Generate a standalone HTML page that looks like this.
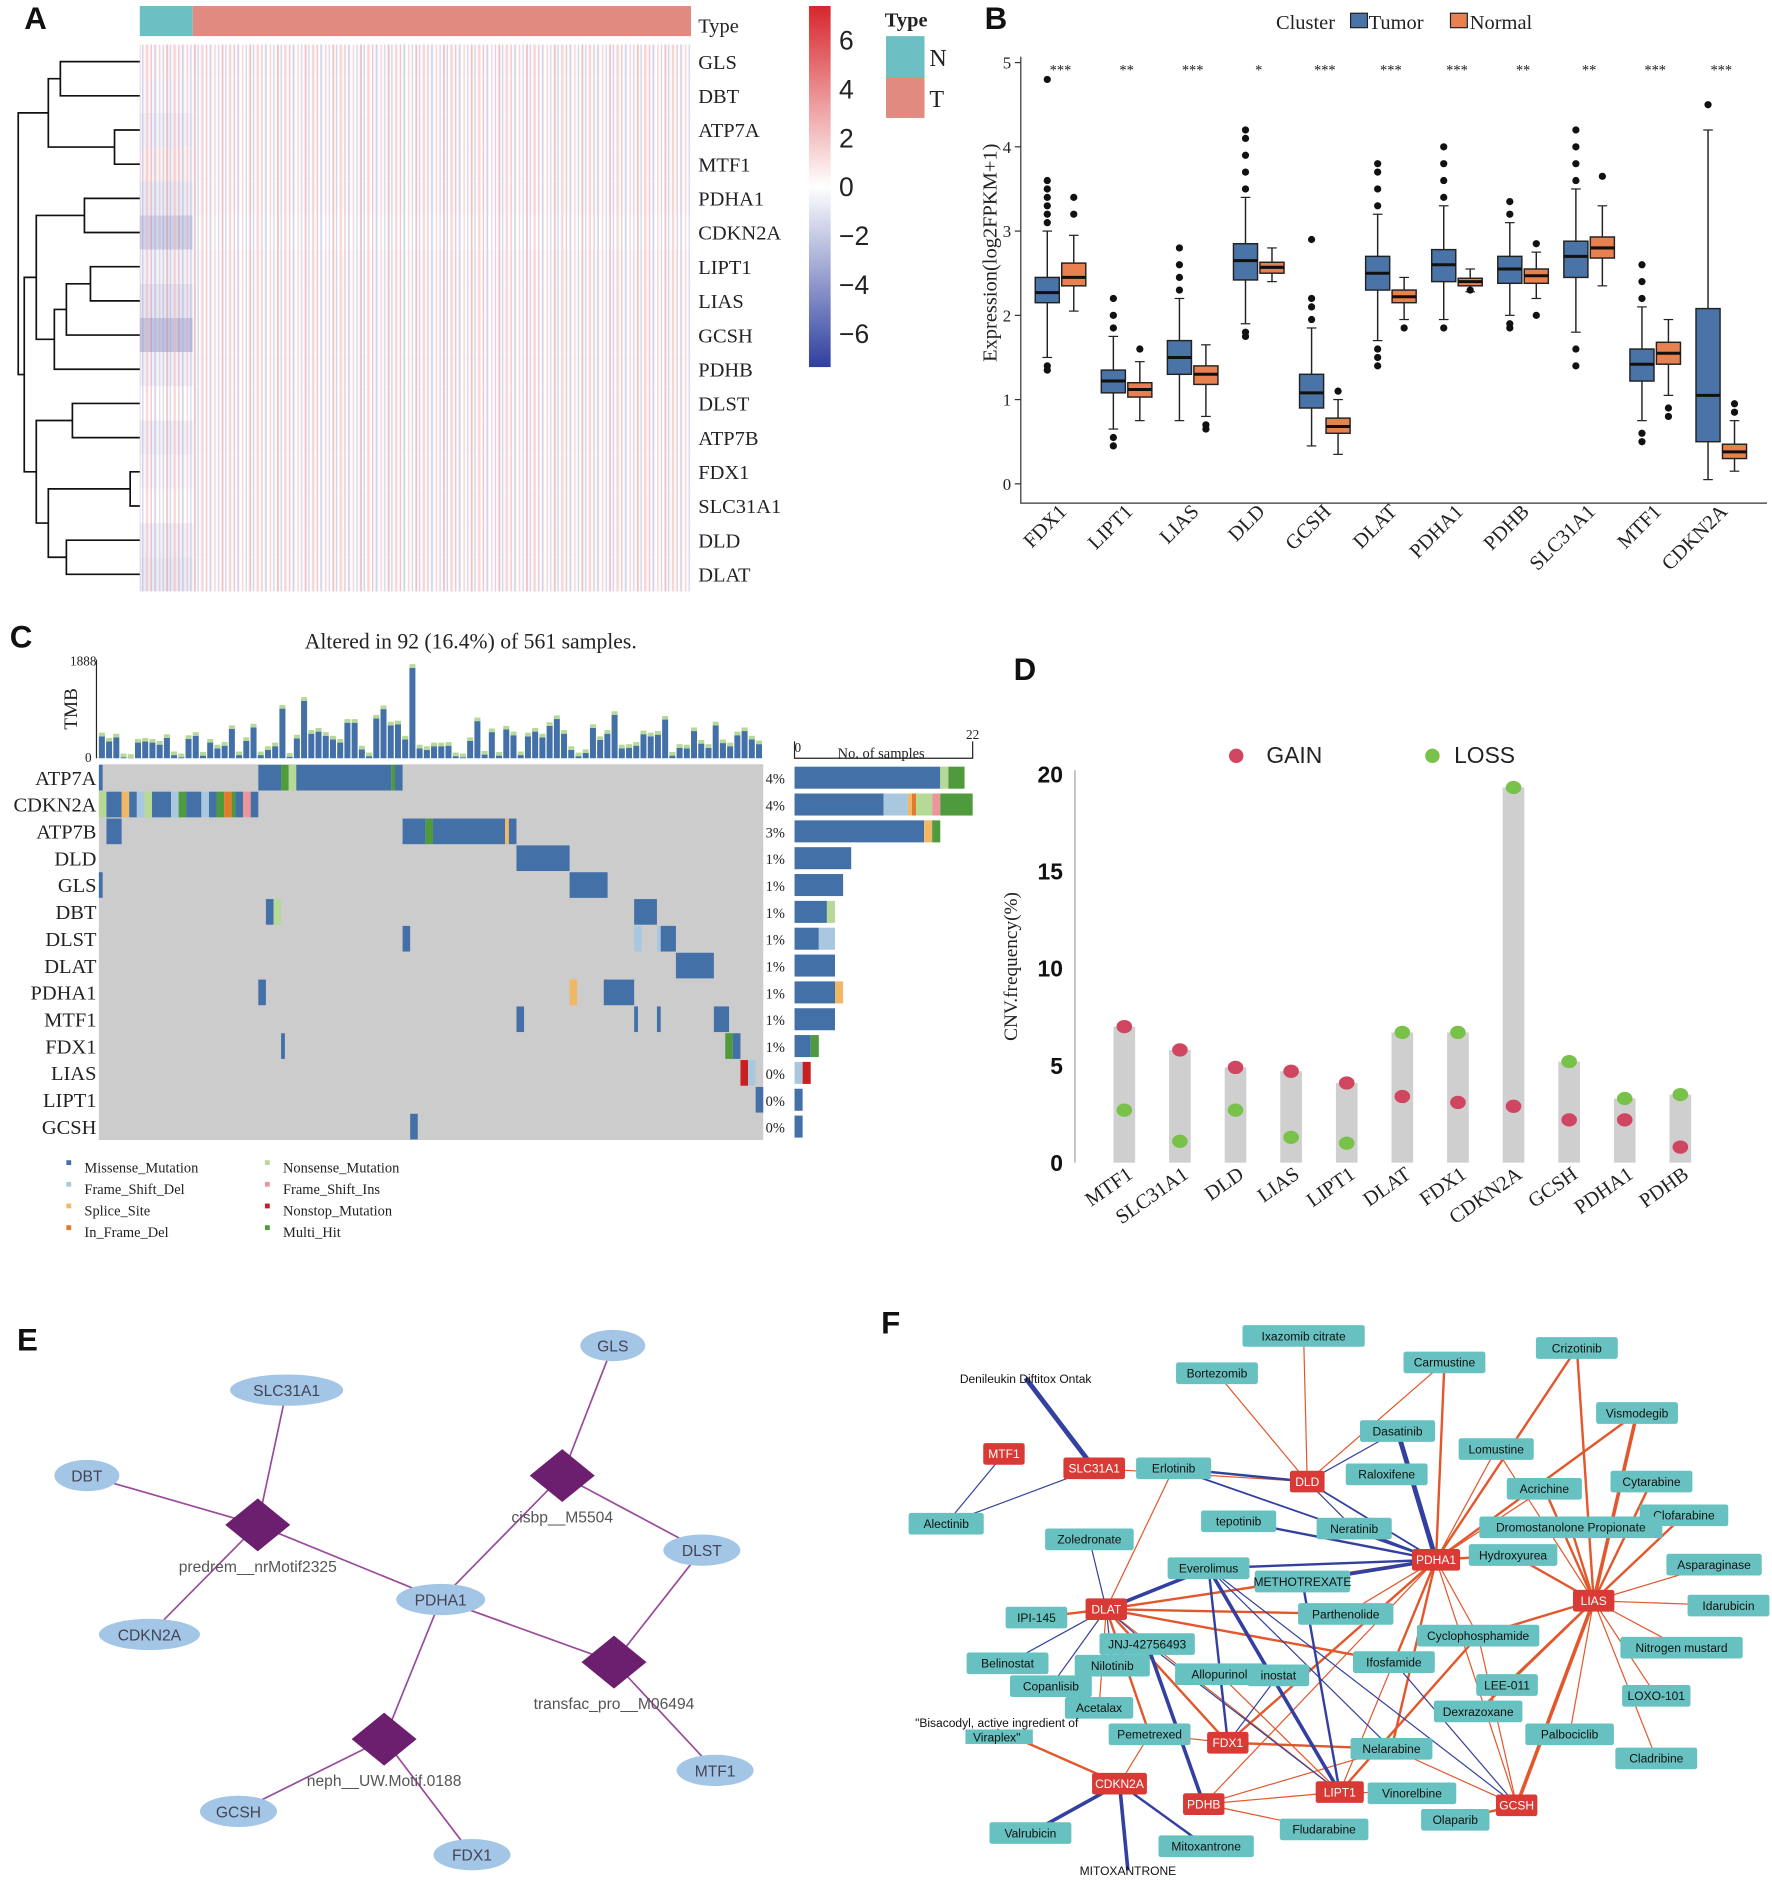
<!DOCTYPE html>
<html><head><meta charset="utf-8">
<style>
html,body{margin:0;padding:0;background:#fff;}
svg{display:block;}
.serif{font-family:"Liberation Serif",serif;}
.sans{font-family:"Liberation Sans",sans-serif;}
</style></head>
<body>
<svg id="fig" width="1772" height="1892" viewBox="0 0 1472 1572" xmlns="http://www.w3.org/2000/svg">
<defs>
<linearGradient id="cbar" x1="0" y1="0" x2="0" y2="1">
<stop offset="0" stop-color="#d7262b"/><stop offset="0.5" stop-color="#ffffff"/><stop offset="1" stop-color="#2f3f9f"/>
</linearGradient>
<pattern id="stripes" width="23" height="10" patternUnits="userSpaceOnUse">
<rect x="0" y="0" width="1.5" height="10" fill="#e07a80" opacity="0.45"/>
<rect x="3" y="0" width="1" height="10" fill="#8f96d0" opacity="0.45"/>
<rect x="6" y="0" width="2" height="10" fill="#f0b0b2" opacity="0.5"/>
<rect x="10" y="0" width="1" height="10" fill="#d05058" opacity="0.35"/>
<rect x="13" y="0" width="1.5" height="10" fill="#a8acdc" opacity="0.5"/>
<rect x="17" y="0" width="1" height="10" fill="#e89094" opacity="0.4"/>
<rect x="20" y="0" width="1" height="10" fill="#7077c0" opacity="0.3"/>
</pattern>
</defs>
<g id="panelA"></g>
<g id="panelB"></g>
<g id="panelC"></g>
<g id="panelD"></g>
<g id="panelE"></g>
<g id="panelF"></g>
<g class="sans" font-weight="bold" font-size="26" fill="#111">
<text x="20" y="24">A</text>
<text x="818" y="24">B</text>
<text x="8" y="538">C</text>
<text x="842" y="565">D</text>
<text x="14" y="1122">E</text>
<text x="732" y="1108">F</text>
</g>
</svg>
<script>
const NS='http://www.w3.org/2000/svg';
function mk(tag,attrs,parent,txt){const e=document.createElementNS(NS,tag);for(const k in attrs)e.setAttribute(k,attrs[k]);if(txt!==undefined)e.textContent=txt;parent.appendChild(e);return e;}

/* ---------- Panel A: heatmap ---------- */
const heatGenes=['GLS','DBT','ATP7A','MTF1','PDHA1','CDKN2A','LIPT1','LIAS','GCSH','PDHB','DLST','ATP7B','FDX1','SLC31A1','DLD','DLAT'];
const heatNormalMean=[0.1,-0.1,-0.2,0.2,-0.3,-0.7,-0.2,-0.4,-0.9,-0.2,0.0,-0.2,-0.1,0.0,-0.2,-0.3];
const heatTumorMean=[0.05,0.05,0.05,0.05,0.05,0.0,0.05,0.05,0.05,0.05,0.05,0.05,0.05,0.05,0.05,0.05];
const cbTicks=[6,4,2,0,-2,-4,-6];
(function(){
const g=document.getElementById('panelA');
const x0=116,x1=574,xN=160,y0=37,rh=28.4;
const sy=v=>155-v*20.3;
function col(v){const t=Math.min(1,Math.abs(v)/6);const w=[255,255,255];const c=v>=0?[215,38,43]:[47,63,159];return 'rgb('+w.map((a,i)=>Math.round(a+(c[i]-a)*t)).join(',')+')';}
let e;
e=mk('rect',{x:x0,y:5,width:xN-x0,height:25,fill:'#6cbfc2'},g);


e=mk('rect',{x:xN,y:5,width:x1-xN,height:25,fill:'#e08a80'},g);


mk('text',{x:580,y:27,'font-size':17,class:'serif',fill:'#222'},g,'Type');
heatGenes.forEach((gn,i)=>{
 const y=y0+i*rh;
 let r=mk('rect',{x:x0,y:y,width:xN-x0,height:rh,fill:col(heatNormalMean[i]*2)},g);
 
 
 r=mk('rect',{x:xN,y:y,width:x1-xN,height:rh,fill:col(heatTumorMean[i]*2)},g);
 
 
 mk('rect',{x:x0,y:y,width:x1-x0,height:rh,fill:'url(#stripes)'},g);
});
heatGenes.forEach((gn,i)=>{const t=mk('text',{x:580,y:y0+i*rh+rh/2+6,'font-size':17,class:'serif',fill:'#222'},g,gn);
 
 });
const yc=i=>y0+i*rh+rh/2;
const P=[];function link(ya,xa,yb,xb,xj){P.push(`M${xa},${ya}H${xj}V${yb}H${xb}`);}
link(yc(0),116,yc(1),116,50);link(yc(2),116,yc(3),116,95);
const m01=(yc(0)+yc(1))/2,m23=(yc(2)+yc(3))/2;link(m01,50,m23,95,40);const mA=(m01+m23)/2;
link(yc(4),116,yc(5),116,70);const m45=(yc(4)+yc(5))/2;
link(yc(6),116,yc(7),116,75);const m67=(yc(6)+yc(7))/2;
link(m67,75,yc(8),116,55);const m678=(m67+yc(8))/2;
link(m678,55,yc(9),116,45);const m69=(m678+yc(9))/2;
link(m45,70,m69,45,30);const mB=(m45+m69)/2;
link(yc(10),116,yc(11),116,60);const mC=(yc(10)+yc(11))/2;
link(yc(12),116,yc(13),116,108);const m1213=(yc(12)+yc(13))/2;
link(yc(14),116,yc(15),116,55);const m1415=(yc(14)+yc(15))/2;
link(m1213,108,m1415,55,40);const mD=(m1213+m1415)/2;
link(mC,60,mD,40,30);const mE=(mC+mD)/2;
link(mB,30,mE,30,20);const mF=(mB+mE)/2;
link(mA,40,mF,20,15);
e=mk('path',{d:P.join(''),fill:'none',stroke:'#111','stroke-width':1.4},g);


e=mk('rect',{x:672,y:5,width:18,height:300,fill:'url(#cbar)'},g);


cbTicks.forEach(v=>{const t=mk('text',{x:697,y:sy(v)+8,'font-size':22,class:'sans',fill:'#222'},g,v<0?'\u2212'+(-v):String(v));
 
 });
mk('text',{x:735,y:22,'font-size':17,'font-weight':'bold',class:'serif',fill:'#222'},g,'Type');
e=mk('rect',{x:736,y:30,width:32,height:34,fill:'#6cbfc2'},g);


e=mk('rect',{x:736,y:64,width:32,height:34,fill:'#e08a80'},g);


mk('text',{x:772,y:55,'font-size':20,class:'serif',fill:'#222'},g,'N');
mk('text',{x:772,y:89,'font-size':20,class:'serif',fill:'#222'},g,'T');
})();

/* ---------- Panel B: boxplots ---------- */
const boxGenes=['FDX1','LIPT1','LIAS','DLD','GCSH','DLAT','PDHA1','PDHB','SLC31A1','MTF1','CDKN2A'];
const tumorStats=[[1.5,2.15,2.27,2.45,3.0],[0.65,1.08,1.22,1.35,1.75],[0.75,1.3,1.5,1.7,2.2],[1.9,2.42,2.65,2.85,3.4],[0.45,0.9,1.08,1.3,1.85],[1.7,2.3,2.5,2.7,3.2],[1.95,2.4,2.6,2.78,3.3],[2.0,2.38,2.55,2.7,3.1],[1.8,2.45,2.7,2.88,3.5],[0.75,1.22,1.42,1.6,2.1],[0.05,0.5,1.05,2.08,4.2]];
const normalStats=[[2.05,2.35,2.45,2.62,2.95],[0.75,1.03,1.12,1.2,1.45],[0.8,1.18,1.3,1.4,1.65],[2.4,2.5,2.57,2.63,2.8],[0.35,0.6,0.68,0.78,1.0],[1.95,2.15,2.22,2.3,2.45],[2.28,2.35,2.4,2.44,2.55],[2.2,2.38,2.47,2.55,2.75],[2.35,2.68,2.8,2.93,3.3],[1.05,1.42,1.55,1.68,1.95],[0.15,0.3,0.38,0.47,0.75]];
const tumorOutliers=[[3.1,3.2,3.3,3.4,3.5,3.6,4.8,1.4,1.35],[1.85,2.0,2.2,0.55,0.45],[2.3,2.45,2.6,2.8],[3.5,3.7,3.9,4.1,4.2,1.75,1.8],[1.95,2.1,2.2,2.9],[3.3,3.5,3.7,3.8,1.6,1.5,1.4],[3.4,3.6,3.8,4.0,1.85],[3.2,3.35,1.9,1.85],[3.6,3.8,4.0,4.2,1.6,1.4],[2.2,2.4,2.6,0.6,0.5],[4.5]];
const normalOutliers=[[3.2,3.4],[1.6],[0.7,0.65],[],[1.1],[1.85],[2.3],[2.0,2.85],[3.65],[0.9,0.8],[0.85,0.95]];
const sigStars=['***','**','***','*','***','***','***','**','**','***','***'];
const yTicksB=[0,1,2,3,4,5];
(function(){
const g=document.getElementById('panelB');
const yB=v=>402-v*70, gx=i=>881+i*54.9;
let e=mk('path',{d:'M848,47V418H1468',fill:'none',stroke:'#333','stroke-width':1},g);


yTicksB.forEach(v=>{mk('line',{x1:843,x2:848,y1:yB(v),y2:yB(v),stroke:'#333'},g);
 const t=mk('text',{x:840,y:yB(v)+5,'text-anchor':'end','font-size':14,class:'serif',fill:'#222'},g,String(v));
 
 });
e=mk('text',{transform:'translate(828,210) rotate(-90)','text-anchor':'middle','font-size':17,class:'serif',fill:'#222'},g,'Expression(log2FPKM+1)');


mk('text',{x:1060,y:24,'font-size':17,class:'serif',fill:'#222'},g,'Cluster');
mk('rect',{x:1122,y:11,width:14,height:12,fill:'#4a74a8',stroke:'#222'},g);
mk('text',{x:1137,y:24,'font-size':17,class:'serif',fill:'#222'},g,'Tumor');
mk('rect',{x:1205,y:11,width:14,height:12,fill:'#e8804f',stroke:'#222'},g);
mk('text',{x:1221,y:24,'font-size':17,class:'serif',fill:'#222'},g,'Normal');
function box(cx,s,outs,fill,name){
 const bg=mk('g',{},g);
 
 
 mk('line',{x1:cx,x2:cx,y1:yB(s[0]),y2:yB(s[4]),stroke:'#222','stroke-width':1.2},bg);
 mk('line',{x1:cx-4,x2:cx+4,y1:yB(s[0]),y2:yB(s[0]),stroke:'#222'},bg);
 mk('line',{x1:cx-4,x2:cx+4,y1:yB(s[4]),y2:yB(s[4]),stroke:'#222'},bg);
 mk('rect',{x:cx-10,y:yB(s[3]),width:20,height:yB(s[1])-yB(s[3]),fill:fill,stroke:'#222','stroke-width':1.2},bg);
 mk('line',{x1:cx-10,x2:cx+10,y1:yB(s[2]),y2:yB(s[2]),stroke:'#111','stroke-width':2.5},bg);
 outs.forEach(o=>mk('circle',{cx:cx,cy:yB(o),r:3,fill:'#111'},bg));
}
boxGenes.forEach((gn,i)=>{
 box(gx(i)-11,tumorStats[i],tumorOutliers[i],'#4a74a8','box-tumor-'+gn);
 box(gx(i)+11,normalStats[i],normalOutliers[i],'#e8804f','box-normal-'+gn);
 const s=mk('text',{x:gx(i),y:62,'text-anchor':'middle','font-size':12,class:'serif',fill:'#222'},g,sigStars[i]);
 
 
 const t=mk('text',{transform:`translate(${gx(i)+6},426) rotate(-45)`,'text-anchor':'end','font-size':17,class:'serif',fill:'#222'},g,gn);
 
 
});
})();

/* ---------- Panel C: oncoprint ---------- */
const oncoGenes=['ATP7A','CDKN2A','ATP7B','DLD','GLS','DBT','DLST','DLAT','PDHA1','MTF1','FDX1','LIAS','LIPT1','GCSH'];
const oncoPct=['4%','4%','3%','1%','1%','1%','1%','1%','1%','1%','1%','0%','0%','0%'];
const mutColors={M:'#4470a8',D:'#a9c8e0',S:'#f0b865',I:'#e27a2b',N:'#b6d998',F:'#ec9699',X:'#c82020',H:'#4f9a3c'};
const mutNames=[['M','Missense_Mutation'],['N','Nonsense_Mutation'],['D','Frame_Shift_Del'],['F','Frame_Shift_Ins'],['S','Splice_Site'],['X','Nonstop_Mutation'],['I','In_Frame_Del'],['H','Multi_Hit']];
const oncoCells=[[0,0,0,'M'],[0,42,47,'M'],[0,48,49,'H'],[0,50,51,'N'],[0,52,76,'M'],[0,77,77,'H'],[0,78,79,'M'],
[1,0,1,'N'],[1,2,5,'M'],[1,6,7,'S'],[1,8,9,'M'],[1,10,11,'D'],[1,12,13,'N'],[1,14,18,'M'],[1,19,20,'D'],[1,21,22,'H'],[1,23,26,'M'],[1,27,28,'D'],[1,29,30,'M'],[1,31,32,'H'],[1,33,34,'I'],[1,35,35,'H'],[1,36,37,'M'],[1,38,39,'F'],[1,40,41,'M'],
[2,2,5,'M'],[2,80,85,'M'],[2,86,87,'H'],[2,88,106,'M'],[2,107,107,'S'],[2,108,109,'M']];
const oncoCells2=[[3,110,123,'M'],[4,0,0,'M'],[4,124,133,'M'],[5,44,45,'M'],[5,46,47,'N'],[5,141,146,'M'],[6,80,81,'M'],[6,141,142,'D'],[6,147,147,'D'],[6,148,151,'M'],[7,152,161,'M'],[8,42,43,'M'],[8,124,125,'S'],[8,133,140,'M'],[9,110,111,'M'],[9,141,141,'M'],[9,147,147,'M'],[9,162,165,'M'],[10,48,48,'M'],[10,165,166,'H'],[10,167,168,'M'],[11,169,170,'X'],[11,171,172,'D'],[12,173,174,'M'],[13,82,83,'M']];
const oncoCounts=[[['M',18],['N',1],['H',2]],[['M',11],['D',3],['S',0.5],['I',0.5],['N',2],['F',1],['H',4]],[['M',16],['S',1],['H',1]],[['M',7]],[['M',6]],[['M',4],['N',1]],[['M',3],['D',2]],[['M',5]],[['M',5],['S',1]],[['M',5]],[['M',2],['H',1]],[['D',1],['X',1]],[['M',1]],[['M',1]]];
const tmbValues=[420,320,400,20,10,300,320,300,260,390,60,20,370,430,50,300,190,240,560,60,330,590,60,160,230,950,30,380,1100,470,510,430,360,300,680,680,170,40,760,940,630,650,360,1730,190,160,230,230,240,40,20,330,710,70,500,50,550,440,60,420,510,400,620,750,470,160,40,100,580,350,470,830,190,200,240,460,420,450,740,50,200,190,520,280,200,630,290,230,440,520,360,270];
(function(){
const g=document.getElementById('panelC');
const gx0=82,cw=552/175,rh=22.3,gy0=635;
let e=mk('text',{x:391,y:539,'text-anchor':'middle','font-size':18,class:'serif',fill:'#222'},g,'Altered in 92 (16.4%) of 561 samples.');


const tx0=82,tw=552/tmbValues.length,ty=630,tmax=1888,th=82;
mk('line',{x1:80,x2:80,y1:548,y2:630,stroke:'#222'},g);
mk('text',{x:80,y:553,'text-anchor':'end','font-size':11,class:'serif',fill:'#222'},g,'1888');
mk('text',{x:76,y:633,'text-anchor':'end','font-size':11,class:'serif',fill:'#222'},g,'0');
mk('text',{transform:'translate(64,589) rotate(-90)','text-anchor':'middle','font-size':16,class:'serif',fill:'#222'},g,'TMB');
tmbValues.forEach((v,i)=>{const h=v/tmax*th;
 const b=mk('rect',{x:tx0+i*tw,y:ty-h,width:tw-1,height:h,fill:'#4470a8'},g);
 
 
 mk('rect',{x:tx0+i*tw,y:ty-h-3,width:tw-1,height:3,fill:'#b6d998'},g);
});
e=mk('rect',{x:gx0,y:gy0,width:552,height:rh*14,fill:'#cccccc'},g);


oncoCells.concat(oncoCells2).forEach(c=>{
 const r=mk('rect',{x:gx0+c[1]*cw,y:gy0+c[0]*rh+0.5,width:(c[2]-c[1]+1)*cw,height:rh-1,fill:mutColors[c[3]]},g);
 
 
});
oncoGenes.forEach((gn,i)=>{
 const t=mk('text',{x:80,y:gy0+i*rh+rh/2+6,'text-anchor':'end','font-size':17,class:'serif',fill:'#222'},g,gn);
 
 
 mk('text',{x:636,y:gy0+i*rh+rh/2+5,'font-size':12,class:'serif',fill:'#222'},g,oncoPct[i]);
 let x=660;const sc=148/22;
 oncoCounts[i].forEach(s=>{const w=s[1]*sc;
  const b=mk('rect',{x:x,y:gy0+i*rh+2,width:w,height:rh-4,fill:mutColors[s[0]]},g);
  
  
  x+=w;});
});
mk('path',{d:'M660,616V630H808V616',fill:'none',stroke:'#222'},g);
mk('text',{x:660,y:625,'font-size':11,class:'serif',fill:'#222'},g,'0');
mk('text',{x:808,y:614,'text-anchor':'middle','font-size':11,class:'serif',fill:'#222'},g,'22');
mk('text',{x:732,y:630,'text-anchor':'middle','font-size':12,class:'serif',fill:'#222'},g,'No. of samples');
mutNames.forEach((m,i)=>{const col=i%2,row=Math.floor(i/2);const x=col?220:55,y=970+row*18;
 const lg=mk('g',{},g);
 
 
 mk('rect',{x:x,y:y-6,width:4,height:4,fill:mutColors[m[0]]},lg);
 mk('text',{x:x+15,y:y+4,'font-size':12,class:'serif',fill:'#222'},lg,m[1]);});
})();

/* ---------- Panel D: CNV ---------- */
const cnvGenes=['MTF1','SLC31A1','DLD','LIAS','LIPT1','DLAT','FDX1','CDKN2A','GCSH','PDHA1','PDHB'];
const cnvGain=[7.0,5.8,4.9,4.7,4.1,3.4,3.1,2.9,2.2,2.2,0.8];
const cnvLoss=[2.7,1.1,2.7,1.3,1.0,6.7,6.7,19.3,5.2,3.3,3.5];
const yTicksD=[0,5,10,15,20];
(function(){
const g=document.getElementById('panelD');
const yD=v=>966-v*16.15,xD=i=>934+i*46.2;
mk('line',{x1:893,x2:893,y1:640,y2:966,stroke:'#888','stroke-width':0.8},g);
yTicksD.forEach(v=>{const t=mk('text',{x:883,y:yD(v)+7,'text-anchor':'end','font-size':19,'font-weight':'bold',class:'sans',fill:'#111'},g,String(v));
 
 });
let e=mk('text',{transform:'translate(845,803) rotate(-90)','text-anchor':'middle','font-size':16,class:'serif',fill:'#222'},g,'CNV.frequency(%)');


mk('circle',{cx:1027,cy:628,r:6,fill:'#d0455f'},g);
mk('text',{x:1052,y:634,'font-size':19,class:'sans',fill:'#222'},g,'GAIN');
mk('circle',{cx:1190,cy:628,r:6,fill:'#79c24a'},g);
mk('text',{x:1208,y:634,'font-size':19,class:'sans',fill:'#222'},g,'LOSS');
cnvGenes.forEach((gn,i)=>{
 const m=Math.max(cnvGain[i],cnvLoss[i]);
 const b=mk('rect',{x:xD(i)-9,y:yD(m),width:18,height:yD(0)-yD(m),fill:'#cfcfcf'},g);
 
 
 const a=mk('ellipse',{cx:xD(i),cy:yD(cnvGain[i]),rx:6.5,ry:5.5,fill:'#d0455f'},g);
 
 
 const l=mk('ellipse',{cx:xD(i),cy:yD(cnvLoss[i]),rx:6.5,ry:5.5,fill:'#79c24a'},g);
 
 
 const t=mk('text',{transform:`translate(${xD(i)+8},978) rotate(-35)`,'text-anchor':'end','font-size':17,class:'serif',fill:'#222'},g,gn);
 
 
});
})();

/* ---------- Panel E: network ---------- */
(function(){
const g=document.getElementById('panelE');
const genes={GLS:[509,1118],SLC31A1:[238,1155],DBT:[72,1226],DLST:[583,1288],PDHA1:[366,1329],CDKN2A:[124,1358],MTF1:[594,1471],GCSH:[198,1505],FDX1:[392,1541]};
const motifs=[['predrem__nrMotif2325',214,1267,['SLC31A1','DBT','CDKN2A','PDHA1']],['cisbp__M5504',467,1226,['GLS','PDHA1','DLST']],['transfac_pro__M06494',510,1381,['PDHA1','DLST','MTF1']],['neph__UW.Motif.0188',319,1445,['PDHA1','GCSH','FDX1']]];
motifs.forEach(m=>m[3].forEach(t=>{const l=mk('line',{x1:m[1],y1:m[2],x2:genes[t][0],y2:genes[t][1],stroke:'#9a4a9a','stroke-width':1.4},g);
 
 }));
motifs.forEach(m=>{const d=mk('path',{d:`M${m[1]},${m[2]-22}L${m[1]+27},${m[2]}L${m[1]},${m[2]+22}L${m[1]-27},${m[2]}Z`,fill:'#6b1f6e'},g);
 
 
 mk('text',{x:m[1],y:m[2]+39,'text-anchor':'middle','font-size':13,class:'sans',fill:'#555'},g,m[0]);});
for(const k in genes){const[x,y]=genes[k];const rx=Math.max(24,k.length*5+12);
 const n=mk('ellipse',{cx:x,cy:y,rx:rx,ry:13,fill:'#a3c6e6'},g);
 
 
 mk('text',{x:x,y:y+5,'text-anchor':'middle','font-size':13,class:'sans',fill:'#445'},g,k);}
})();

/* ---------- Panel F: drug network ---------- */
const fGenes={MTF1:[834,1208],SLC31A1:[909,1220],DLD:[1086,1231],PDHA1:[1193,1296],DLAT:[919,1337],LIAS:[1324,1330],FDX1:[1020,1448],CDKN2A:[930,1482],PDHB:[1000,1499],LIPT1:[1113,1489],GCSH:[1260,1500]};
const fDrugs={'Ixazomib citrate':[1083,1110],'Bortezomib':[1011,1141],'Carmustine':[1200,1132],'Crizotinib':[1310,1120],'Vismodegib':[1360,1174],'Dasatinib':[1161,1189],'Lomustine':[1243,1204],'Erlotinib':[975,1220],'Raloxifene':[1152,1225],'Cytarabine':[1372,1231],'Acrichine':[1283,1237],'Clofarabine':[1399,1259],'Alectinib':[786,1266],'tepotinib':[1029,1264],'Neratinib':[1125,1270],'Dromostanolone Propionate':[1305,1269],'Zoledronate':[905,1279],'Hydroxyurea':[1257,1292],'Asparaginase':[1424,1300],'Everolimus':[1004,1303],'METHOTREXATE':[1082,1314],'Idarubicin':[1436,1334],'IPI-145':[861,1344],'Parthenolide':[1118,1341],'Cyclophosphamide':[1228,1359],'JNJ-42756493':[953,1366],'Nitrogen mustard':[1397,1369],'Belinostat':[837,1382],'Nilotinib':[924,1384],'Allopurinol':[1013,1391],'inostat':[1062,1392],'Ifosfamide':[1158,1381],'Copanlisib':[873,1401],'LEE-011':[1252,1400],'LOXO-101':[1376,1409],'Acetalax':[913,1419],'Dexrazoxane':[1228,1422],'Pemetrexed':[955,1441],'Palbociclib':[1304,1441],'Nelarabine':[1156,1453],'Cladribine':[1376,1461],'Vinorelbine':[1173,1490],'Olaparib':[1209,1512],'Valrubicin':[856,1523],'Fludarabine':[1100,1520],'Mitoxantrone':[1002,1534]};
const fBlueEdges=[['SLC31A1','Denileukin',4],['MTF1','Alectinib',1],['SLC31A1','Alectinib',1],['Erlotinib','DLD',2],['Erlotinib','PDHA1',1.5],['DLD','Dasatinib',1],['DLD','PDHA1',1.5],['Dasatinib','PDHA1',4],['Neratinib','PDHA1',2],['tepotinib','PDHA1',2],['DLD','Neratinib',1],['Everolimus','DLAT',3],['Everolimus','PDHA1',2],['Everolimus','FDX1',2],['Everolimus','LIPT1',3],['Everolimus','GCSH',1],['METHOTREXATE','PDHA1',3],['Zoledronate','DLAT',1],['DLAT','JNJ-42756493',1],['DLAT','Nilotinib',1],['DLAT','Copanlisib',1],['JNJ-42756493','PDHB',3],['Allopurinol','FDX1',1],['inostat','FDX1',1],['CDKN2A','Valrubicin',3],['CDKN2A','Mitoxantrone',2],['CDKN2A','MITOX',3],['JNJ-42756493','LIPT1',1],['Everolimus','Nelarabine',1],['METHOTREXATE','LIPT1',2],['Ifosfamide','GCSH',1],['DLAT','Belinostat',1]];
const fRedEdges=[['DLD','Ixazomib citrate',1],['DLD','Bortezomib',1],['DLD','Carmustine',1],['PDHA1','Carmustine',2],['PDHA1','Crizotinib',2],['LIAS','Crizotinib',2],['LIAS','Vismodegib',3],['PDHA1','Vismodegib',2],['PDHA1','Lomustine',1],['LIAS','Cytarabine',2],['LIAS','Clofarabine',2],['LIAS','Acrichine',2],['PDHA1','Acrichine',1],['LIAS','Asparaginase',1],['LIAS','Idarubicin',1],['LIAS','Nitrogen mustard',1],['LIAS','LOXO-101',1],['LIAS','Cladribine',1],['LIAS','Palbociclib',1],['LIAS','Dromostanolone Propionate',2],['LIAS','Hydroxyurea',2],['PDHA1','Hydroxyurea',2],['PDHA1','Cyclophosphamide',1],['LIAS','Cyclophosphamide',2],['LIAS','LEE-011',2],['LIAS','Dexrazoxane',2],['LIAS','GCSH',3],['PDHA1','GCSH',1],['PDHA1','DLAT',2],['PDHA1','Parthenolide',1],['PDHA1','Ifosfamide',2],['PDHA1','FDX1',2],['PDHA1','LIPT1',1],['PDHA1','PDHB',1],['DLAT','IPI-145',2],['DLAT','Pemetrexed',2],['DLAT','Parthenolide',2],['DLAT','Ifosfamide',2],['DLAT','FDX1',2],['DLAT','LIPT1',1],['CDKN2A','Bisacodyl',2],['CDKN2A','Pemetrexed',1],['FDX1','Nelarabine',2],['FDX1','Pemetrexed',1],['PDHB','LIPT1',1],['PDHB','Nelarabine',1],['PDHB','Fludarabine',1],['LIPT1','Cyclophosphamide',2],['LIPT1','Vinorelbine',1],['GCSH','Olaparib',2],['GCSH','Cyclophosphamide',1],['GCSH','Nelarabine',1],['LIAS','Lomustine',1],['DLAT','Erlotinib',1],['SLC31A1','DLD',1],['PDHA1','Dasatinib',1],['PDHA1','Nelarabine',2],['DLAT','Acetalax',1],['LIPT1','Allopurinol',1]];
(function(){
const g=document.getElementById('panelF');
const extra={'Denileukin':[852,1145],'MITOX':[937,1554],'Bisacodyl':[828,1437]};
const pos=k=>fGenes[k]||fDrugs[k]||extra[k];
fRedEdges.forEach(e=>{const a=pos(e[0]),b=pos(e[1]);
 const l=mk('line',{x1:a[0],y1:a[1],x2:b[0],y2:b[1],stroke:'#e2572c','stroke-width':e[2]},g);
 
 });
fBlueEdges.forEach(e=>{const a=pos(e[0]),b=pos(e[1]);
 const l=mk('line',{x1:a[0],y1:a[1],x2:b[0],y2:b[1],stroke:'#3340a0','stroke-width':e[2]},g);
 
 });
function node(txt,x,y,fill,tc,fs){const w=txt.length*fs*0.56+12,h=18;
 const ng=mk('g',{},g);
 
 
 mk('rect',{x:x-w/2,y:y-h/2,width:w,height:h,rx:2,fill:fill},ng);
 mk('text',{x:x,y:y+fs*0.36,'text-anchor':'middle','font-size':fs,class:'sans',fill:tc},ng,txt);}
for(const k in fDrugs){const[x,y]=fDrugs[k];node(k,x,y,'#66c1c0','#111',10);}
for(const k in fGenes){const[x,y]=fGenes[k];node(k,x,y,'#d93a35','#fff',10);}
let t=mk('text',{x:852,y:1149,'text-anchor':'middle','font-size':10,class:'sans',fill:'#111'},g,'Denileukin Diftitox Ontak');


t=mk('text',{x:937,y:1558,'text-anchor':'middle','font-size':10,class:'sans',fill:'#111'},g,'MITOXANTRONE');


mk('rect',{x:802,y:1437,width:56,height:12,fill:'#66c1c0'},g);
t=mk('text',{x:828,y:1435,'text-anchor':'middle','font-size':10,class:'sans',fill:'#111'},g,'"Bisacodyl, active ingredient of');


mk('text',{x:828,y:1447,'text-anchor':'middle','font-size':10,class:'sans',fill:'#111'},g,'Viraplex"');
})();
</script>
</body></html>
